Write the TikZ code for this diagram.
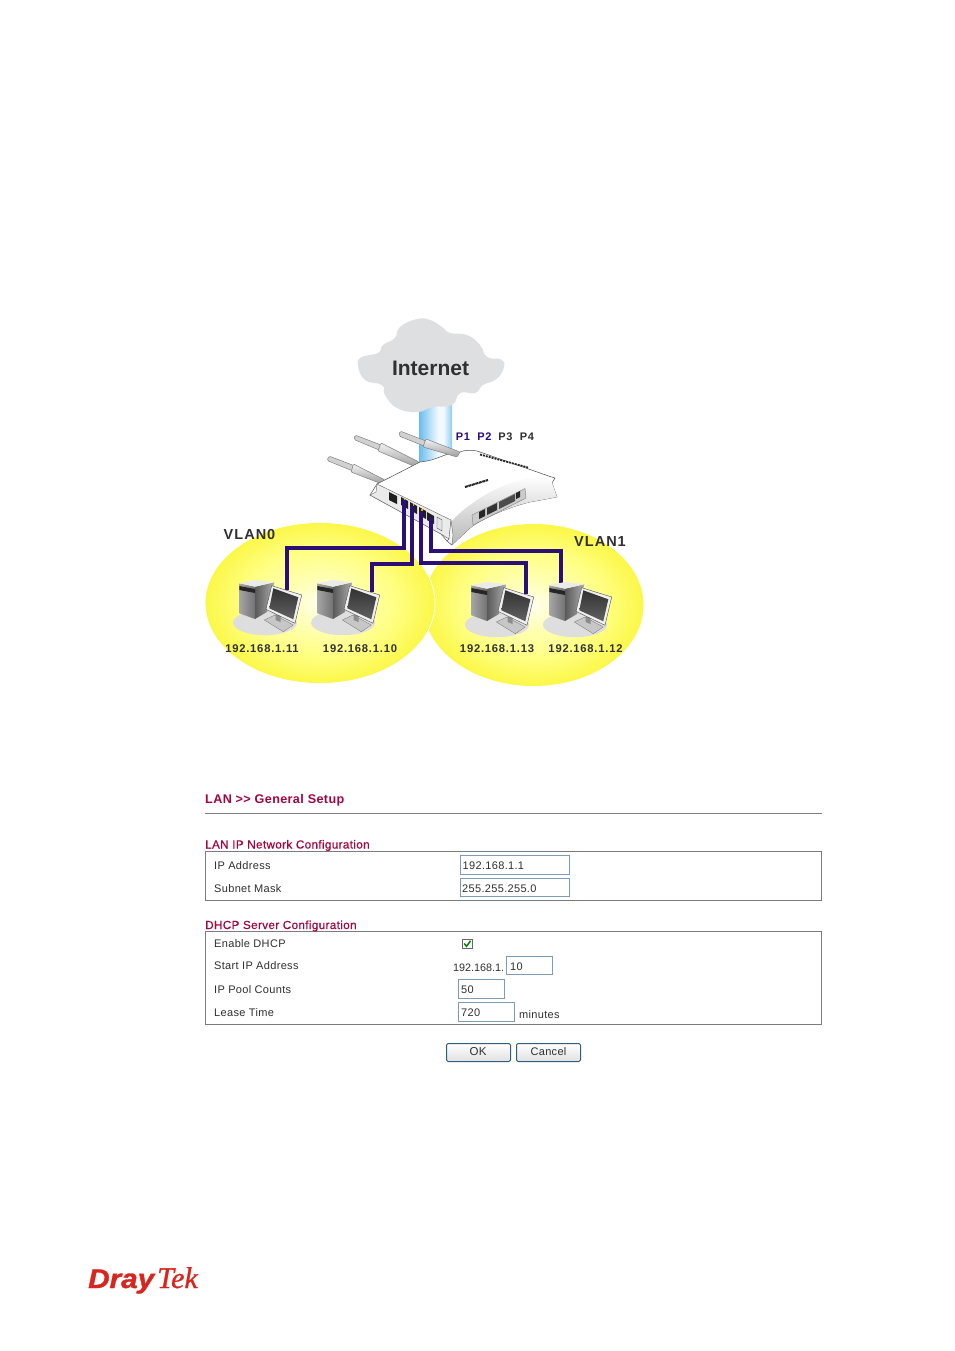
\documentclass[tikz,border=0pt]{standalone}
\usepackage{fontspec}
\usepackage{graphicx}
\setmainfont{Liberation Sans}
\newfontfamily\dgfont[LetterSpace=7]{Liberation Sans}
\newfontfamily\uifont[LetterSpace=3]{Liberation Sans}
\newfontfamily\tightfont{Liberation Sans}
\newfontfamily\titlefont[LetterSpace=3,FakeBold=0.5]{Liberation Sans}
\newfontfamily\logosans[FakeBold=1.2]{Liberation Sans}
\newfontfamily\logoserif[FakeBold=1.0]{Liberation Serif}
\definecolor{wire}{HTML}{2A0F78}
\definecolor{cloudgrey}{HTML}{DDDFE1}
\definecolor{crimson}{HTML}{A3053F}
\definecolor{inputedge}{HTML}{7E9BB5}
\definecolor{frameedge}{HTML}{7C7C7C}
\definecolor{textgrey}{HTML}{303030}
\definecolor{logored}{HTML}{D8261E}
\definecolor{btnedge}{HTML}{2F5F80}
\pgfdeclareradialshading{vlanshade}{\pgfpoint{0bp}{0bp}}{%
 rgb(0bp)=(1,1,0.93); rgb(7bp)=(1,1,0.72); rgb(16bp)=(1,1,0.52); rgb(25bp)=(0.985,0.97,0.28); rgb(50bp)=(0.985,0.97,0.28)}
\pgfdeclarehorizontalshading{beamshade}{100bp}{%
 rgb(0bp)=(.42,.74,.93); rgb(25bp)=(.42,.74,.93); rgb(54bp)=(.95,.98,1); rgb(62bp)=(.95,.98,1); rgb(75bp)=(.55,.8,.95); rgb(100bp)=(.55,.8,.95)}
\tikzset{
 x=1pt,y=-1pt,
 wireline/.style={draw=wire,line width=3.3pt,line join=miter},
 ipnode/.style={font=\dgfont\bfseries\fontsize{11.2}{13}\selectfont,text=textgrey,inner sep=0pt},
 vlannode/.style={font=\dgfont\bfseries\fontsize{14.5}{16}\selectfont,text=textgrey,inner sep=0pt},
 portnode/.style={font=\dgfont\bfseries\fontsize{11}{13}\selectfont,inner sep=0pt},
 title/.style={anchor=west,inner sep=0pt,text=crimson,text height=10.5pt,text depth=2.5pt},
 maintitle/.style={title,font=\uifont\bfseries\fontsize{12.6}{14}\selectfont},
 subtitle/.style={title,font=\titlefont\fontsize{11.7}{14}\selectfont},
 formtext/.style={anchor=west,inner sep=0pt,font=\uifont\fontsize{11}{13}\selectfont,text=textgrey,text height=10.5pt,text depth=2.5pt},
 frame/.style={draw=frameedge,line width=1pt,fill=white},
 inputbox/.style={draw=inputedge,line width=1pt,fill=white},
 btn/.style={draw=btnedge,line width=1pt,rounded corners=1.5pt,top color=white,bottom color=black!12},
 antthin/.style={draw=black!50,fill=black!18,line width=.5pt,rounded corners=1.5pt},
 antthick/.style={draw=black!50,line width=.5pt,top color=black!5,bottom color=black!38,rounded corners=1pt},
 port/.style={fill=black!88},
 led/.style={fill=orange!80!yellow},
 workstation/.pic={
  \fill[black!13] (26,42.7) ellipse [x radius=32,y radius=12.5];
  \path[shade,left color=black!35,right color=black!55] (0.3,3.3) -- (16,6.7) -- (16,39) -- (0.3,33.3) -- cycle;
  \path[shade,left color=black!65,right color=black!32] (16,6.7) -- (35.3,2.3) -- (28,32) -- (16,39) -- cycle;
  \fill[black!8] (0.3,3.3) -- (16,0) -- (35.3,2.3) -- (16,6.7) -- cycle;
  \fill[black!85] (0.3,6) -- (16,9) -- (16,13) -- (0.3,10) -- cycle;
  \fill[black!22,draw=black!55,line width=.3pt] (25.3,40) -- (36,35) -- (54.3,45) -- (44.3,51.7) -- cycle;
  \fill[black!45] (36.5,33.5) -- (41.5,36) -- (41.5,42) -- (36.5,40) -- cycle;
  \fill[black!6,draw=black!70,line width=.4pt] (32.7,5.7) -- (62.7,15) -- (56,43.3) -- (27,29.3) -- cycle;
  \path[shade,shading angle=30,top color=black!80,bottom color=black!62] (34.3,8.3) -- (59.3,17.3) -- (54.3,39.3) -- (30.3,28.3) -- cycle;
 }
}
\begin{document}
\begin{tikzpicture}
\useasboundingbox (0,0) rectangle (954,1351);
\fill[white] (0,0) rectangle (954,1351);

% VLAN clouds
\path[shade,shading=vlanshade] (533.5,605) ellipse [x radius=110,y radius=81];
\path[shade,shading=vlanshade,draw=white,line width=.8pt] (320,603) ellipse [x radius=115,y radius=80.5];

% Internet beam and cloud
\path[shade,shading=beamshade] (419,405) rectangle (452,465);
\fill[cloudgrey] plot[smooth cycle,tension=.8] coordinates {
 (358,365) (362,357) (378,353) (383,345) (395,338) (400,327) (417,319) (430,320) (442,327) (450,333)
 (467,335) (480,345) (487,357) (502,360) (503,370) (495,380) (483,385) (475,393) (460,393) (452,405)
 (433,407) (417,412) (397,408) (385,395) (382,385) (365,380)};

% Router
\coordinate (portA) at (404,500);
\coordinate (portB) at (412,506);
\coordinate (portC) at (421,512);
\coordinate (portD) at (431,518);
\draw[antthin] (329,456) -- (355,466) -- (353,471) -- (327,460.5) -- cycle;
\path[antthick] (353.5,464) -- (385,480) -- (382,484) -- (351,472) -- cycle;
\draw[antthin] (355,435) -- (381,445) -- (379,450) -- (354,439.5) -- cycle;
\path[antthick] (381,443) -- (419,462) -- (416,467) -- (378,451) -- cycle;
\fill[white,draw=black!70,line width=.5pt]
 (377,484) -- (420,462) .. controls (440,460) and (445,452) .. (458,453)
 .. controls (465,449) and (475,450) .. (480,452) -- (550,476.5) -- (555,478) -- (552,483) -- (557,497)
 -- (530,502) .. controls (505,508) and (480,520) .. (470,528) -- (452,545) -- (447,541) -- (441,534) -- (370,495) -- (377,484) -- cycle;
\path[shade,shading angle=200,top color=white,bottom color=black!28]
 (552,478) .. controls (520,475) and (490,490) .. (470,505) .. controls (460,512) and (455,518) .. (451,522)
 -- (452,545) -- (470,528) .. controls (480,520) and (505,508) .. (530,502) -- (557,497) -- (552,483) -- cycle;
\fill[black!8,draw=black!60,line width=.4pt] (377,484) -- (451,520) -- (449,539) -- (441,534) -- (370,495) -- (376,492) -- cycle;
\fill[black!4,draw=black!60,line width=.4pt] (451,520) -- (453,535) -- (452,545) -- (447,541) -- (449,539) -- cycle;
\draw[antthin] (400,431) -- (426,441) -- (424,446) -- (399,436) -- cycle;
\path[antthick] (426,439) -- (460,452) -- (457,457) -- (423,447) -- cycle;
\fill[port] (389,492) -- (397,496) -- (397,504) -- (389,500) -- cycle;
\fill[port] (401,497) -- (408,501) -- (408,509) -- (401,505) -- cycle;
\fill[port] (410,502) -- (417,506) -- (417,514) -- (410,510) -- cycle;
\fill[port] (419,507) -- (426,511) -- (426,519) -- (419,515) -- cycle;
\fill[port] (427,512) -- (434,516) -- (434,524) -- (427,520) -- cycle;
\fill[led] (403.5,499) rectangle (405,500.5);
\fill[led] (412.5,504) rectangle (414,505.5);
\fill[led] (421,509) rectangle (422.5,510.5);
\fill[black!10,draw=black!70,line width=.4pt] (437,517) -- (442,520) -- (442,531) -- (437,528) -- cycle;
\fill[black!20,draw=black!50,line width=.4pt] (472,515) -- (525,488.5) -- (526,498) -- (473,525) -- cycle;
\fill[black!85] (479,512) -- (485,509) -- (485,516) -- (479,519) -- cycle;
\fill[black!80] (487,508) -- (497,503) -- (497,510) -- (487,515) -- cycle;
\fill[black!70] (499,502) -- (515,494) -- (515,501) -- (499,509) -- cycle;
\fill[black!85] (516,493) -- (520,491) -- (520,497) -- (516,499) -- cycle;
\draw[black!85,line width=1.8pt,dash pattern=on 2pt off 1pt] (480,454.5) -- (528,467.5);
\draw[black!85,line width=2pt,dash pattern=on 3pt off .6pt] (465,487) -- (488,480);

% Wires
\coordinate (pc1in) at (287,590);
\coordinate (pc2in) at (372,592);
\coordinate (pc3in) at (526,594);
\coordinate (pc4in) at (561,584);
\coordinate (bendA) at (404,548);
\coordinate (bendAb) at (287,548);
\coordinate (bendB) at (412,564);
\coordinate (bendBb) at (372,564);
\coordinate (bendC) at (421,563);
\coordinate (bendCb) at (526,563);
\coordinate (bendD) at (431,551);
\coordinate (bendDb) at (561,551);
\draw[wireline] (portA) -- (bendA) -- (bendAb) -- (pc1in);
\draw[wireline] (portB) -- (bendB) -- (bendBb) -- (pc2in);
\draw[wireline] (portC) -- (bendC) -- (bendCb) -- (pc3in);
\draw[wireline] (portD) -- (bendD) -- (bendDb) -- (pc4in);

% Workstations
\pic (pcA) at (239,580) {workstation};
\pic (pcB) at (317,580) {workstation};
\pic (pcC) at (471,582) {workstation};
\pic (pcD) at (549,582) {workstation};

% Diagram labels
\node[font=\bfseries\fontsize{21}{24}\selectfont,text=textgrey,inner sep=0pt] (internet) at (430.5,368) {Internet};
\node[portnode,text=wire] (p1) at (463,436.5) {P1};
\node[portnode,text=wire] (p2) at (484.5,436.5) {P2};
\node[portnode,text=textgrey] (p3) at (505.5,436.5) {P3};
\node[portnode,text=textgrey] (p4) at (527,436.5) {P4};
\node[vlannode] (vlan0) at (249.5,535) {VLAN0};
\node[vlannode] (vlan1) at (600,542) {VLAN1};
\node[ipnode] (ipA) at (262,648.5) {192.168.1.11};
\node[ipnode] (ipB) at (360,648.5) {192.168.1.10};
\node[ipnode] (ipC) at (497,648.5) {192.168.1.13};
\node[ipnode] (ipD) at (585.5,648.5) {192.168.1.12};

% Form
\node[maintitle] (heading) at (205,799) {LAN >> General Setup};
\draw[black!50,line width=1pt] (205,813.5) -- (822,813.5);
\draw[frame] (205.5,851.5) rectangle (821.5,900.5);
\node[subtitle] (lanTitle) at (205,844.5) {LAN IP Network Configuration};
\node[formtext] (lab1) at (214,865) {IP Address};
\node[formtext] (lab2) at (214,888) {Subnet Mask};
\draw[inputbox] (460.5,855.5) rectangle (569.5,874);
\draw[inputbox] (460.5,878.5) rectangle (569.5,896.5);
\node[formtext] (val1) at (462.5,865) {192.168.1.1};
\node[formtext] (val2) at (462,888) {255.255.255.0};

\draw[frame] (205.5,931.5) rectangle (821.5,1024.5);
\node[subtitle] (dhcpTitle) at (205,925) {DHCP Server Configuration};
\node[formtext] (lab3) at (214,943.5) {Enable DHCP};
\node[formtext] (lab4) at (214,965.5) {Start IP Address};
\node[formtext] (lab5) at (214,989) {IP Pool Counts};
\node[formtext] (lab6) at (214,1012) {Lease Time};
\draw[draw=black!60,fill=white,line width=.8pt] (462,939) rectangle (472.5,948.5);
\draw[draw=green!50!black,line width=1.5pt] (464.2,943.5) -- (466.5,946.3) -- (470.5,940.8);
\draw[inputbox] (506.5,956) rectangle (552.5,974.5);
\node[formtext,font=\tightfont\fontsize{10.8}{13}\selectfont] (val3) at (453,967) {192.168.1.};
\node[formtext] (val4) at (510,966) {10};
\draw[inputbox] (458.5,979.5) rectangle (504.5,998.5);
\node[formtext] (val5) at (461,989) {50};
\draw[inputbox] (458.5,1002.5) rectangle (514.5,1021);
\node[formtext] (val6) at (461,1012) {720};
\node[formtext] (val7) at (519,1014) {minutes};
\path[btn] (446.5,1043.5) rectangle (510.5,1061.5);
\path[btn] (516.5,1043.5) rectangle (580.5,1061.5);
\node[font=\uifont\fontsize{11.5}{13}\selectfont,text=textgrey,inner sep=0pt] (ok) at (478,1052) {OK};
\node[font=\uifont\fontsize{11}{13}\selectfont,text=textgrey,inner sep=0pt] (cancel) at (548.5,1052) {Cancel};

% Logo
\node[anchor=base west,inner sep=0pt,text=logored,font=\logosans\bfseries\itshape\fontsize{27}{30}\selectfont] (logoA) at (88,1288) {\scalebox{1.1}[1]{Dray}};
\node[anchor=base west,inner sep=0pt,text=logored,font=\logoserif\itshape\fontsize{30}{30}\selectfont] (logoB) at (157,1288) {Tek};
\end{tikzpicture}
\end{document}
